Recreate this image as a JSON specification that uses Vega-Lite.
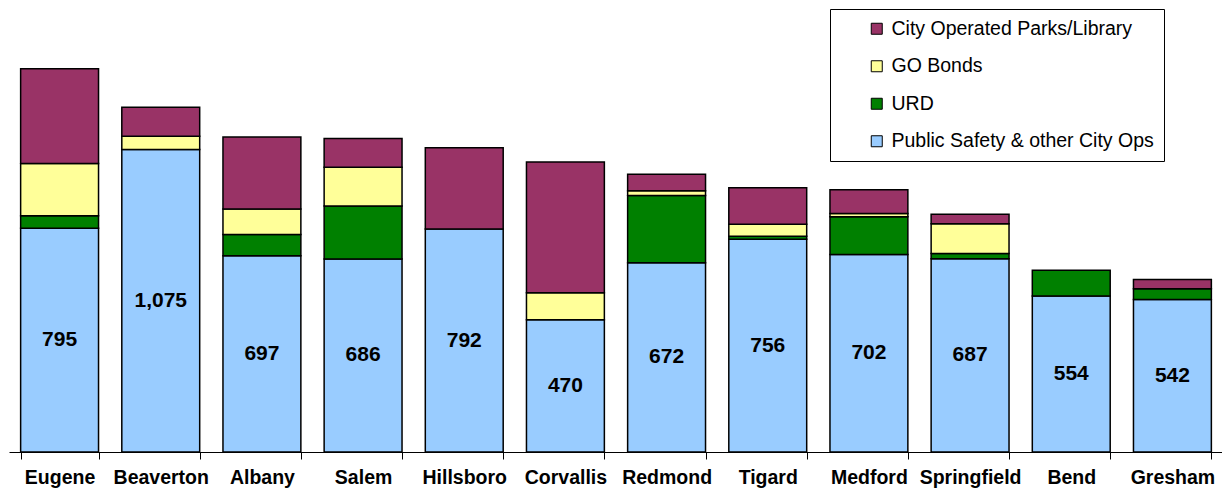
{
  "$schema": "https://vega.github.io/schema/vega-lite/v6.json",
  "width": 1214,
  "height": 452,
  "autosize": {"type": "none"},
  "padding": {"left": 9, "top": 0, "right": 0, "bottom": 36},
  "config": {"view": {"stroke": null}, "font": "Liberation Sans"},
  "data": {
    "values": [
      {"city": "Eugene", "cat": "Public Safety & other City Ops", "o": 1, "v": 795},
      {"city": "Eugene", "cat": "URD", "o": 2, "v": 44},
      {"city": "Eugene", "cat": "GO Bonds", "o": 3, "v": 186},
      {"city": "Eugene", "cat": "City Operated Parks/Library", "o": 4, "v": 337},
      {"city": "Beaverton", "cat": "Public Safety & other City Ops", "o": 1, "v": 1075},
      {"city": "Beaverton", "cat": "GO Bonds", "o": 3, "v": 47},
      {"city": "Beaverton", "cat": "City Operated Parks/Library", "o": 4, "v": 103},
      {"city": "Albany", "cat": "Public Safety & other City Ops", "o": 1, "v": 697},
      {"city": "Albany", "cat": "URD", "o": 2, "v": 76},
      {"city": "Albany", "cat": "GO Bonds", "o": 3, "v": 90},
      {"city": "Albany", "cat": "City Operated Parks/Library", "o": 4, "v": 256},
      {"city": "Salem", "cat": "Public Safety & other City Ops", "o": 1, "v": 686},
      {"city": "Salem", "cat": "URD", "o": 2, "v": 188},
      {"city": "Salem", "cat": "GO Bonds", "o": 3, "v": 138},
      {"city": "Salem", "cat": "City Operated Parks/Library", "o": 4, "v": 102},
      {"city": "Hillsboro", "cat": "Public Safety & other City Ops", "o": 1, "v": 792},
      {"city": "Hillsboro", "cat": "City Operated Parks/Library", "o": 4, "v": 289},
      {"city": "Corvallis", "cat": "Public Safety & other City Ops", "o": 1, "v": 470},
      {"city": "Corvallis", "cat": "GO Bonds", "o": 3, "v": 96},
      {"city": "Corvallis", "cat": "City Operated Parks/Library", "o": 4, "v": 464},
      {"city": "Redmond", "cat": "Public Safety & other City Ops", "o": 1, "v": 672},
      {"city": "Redmond", "cat": "URD", "o": 2, "v": 239},
      {"city": "Redmond", "cat": "GO Bonds", "o": 3, "v": 17},
      {"city": "Redmond", "cat": "City Operated Parks/Library", "o": 4, "v": 59},
      {"city": "Tigard", "cat": "Public Safety & other City Ops", "o": 1, "v": 756},
      {"city": "Tigard", "cat": "URD", "o": 2, "v": 11},
      {"city": "Tigard", "cat": "GO Bonds", "o": 3, "v": 42},
      {"city": "Tigard", "cat": "City Operated Parks/Library", "o": 4, "v": 130},
      {"city": "Medford", "cat": "Public Safety & other City Ops", "o": 1, "v": 702},
      {"city": "Medford", "cat": "URD", "o": 2, "v": 134},
      {"city": "Medford", "cat": "GO Bonds", "o": 3, "v": 11},
      {"city": "Medford", "cat": "City Operated Parks/Library", "o": 4, "v": 85},
      {"city": "Springfield", "cat": "Public Safety & other City Ops", "o": 1, "v": 687},
      {"city": "Springfield", "cat": "URD", "o": 2, "v": 18},
      {"city": "Springfield", "cat": "GO Bonds", "o": 3, "v": 106},
      {"city": "Springfield", "cat": "City Operated Parks/Library", "o": 4, "v": 34},
      {"city": "Bend", "cat": "Public Safety & other City Ops", "o": 1, "v": 554},
      {"city": "Bend", "cat": "URD", "o": 2, "v": 92},
      {"city": "Gresham", "cat": "Public Safety & other City Ops", "o": 1, "v": 542},
      {"city": "Gresham", "cat": "URD", "o": 2, "v": 38},
      {"city": "Gresham", "cat": "City Operated Parks/Library", "o": 4, "v": 33}
    ]
  },
  "encoding": {
    "x": {
      "field": "city",
      "type": "nominal",
      "sort": ["Eugene", "Beaverton", "Albany", "Salem", "Hillsboro", "Corvallis", "Redmond", "Tigard", "Medford", "Springfield", "Bend", "Gresham"],
      "scale": {"paddingInner": 0.23, "paddingOuter": 0.115},
      "axis": {
        "title": null,
        "domainColor": "black",
        "domainWidth": 1,
        "tickColor": "black",
        "tickSize": 7,
        "tickBand": "extent",
        "labelAngle": 0,
        "labelFont": "Liberation Sans",
        "labelFontSize": 19.5,
        "labelFontWeight": "bold",
        "labelColor": "black",
        "labelBaseline": "alphabetic",
        "labelPadding": 24,
        "grid": false
      }
    }
  },
  "layer": [
    {
      "mark": {"type": "bar", "stroke": "black", "strokeWidth": 1.5},
      "encoding": {
        "y": {
          "field": "v",
          "type": "quantitative",
          "stack": "zero",
          "scale": {"domain": [0, 1606], "nice": false, "zero": true},
          "axis": null
        },
        "color": {
          "field": "cat",
          "type": "nominal",
          "scale": {
            "domain": ["City Operated Parks/Library", "GO Bonds", "URD", "Public Safety & other City Ops"],
            "range": ["#993366", "#FFFF99", "#008000", "#99CCFF"]
          },
          "legend": {
            "orient": "none",
            "legendX": 821,
            "legendY": 9,
            "title": null,
            "fillColor": "white",
            "strokeColor": "black",
            "padding": 10,
            "symbolType": "square",
            "symbolSize": 121,
            "symbolStrokeColor": "black",
            "symbolStrokeWidth": 1,
            "symbolOffset": 27,
            "labelOffset": 5,
            "labelFont": "Liberation Sans",
            "labelFontSize": 19.5,
            "labelColor": "black",
            "labelLimit": 400,
            "rowPadding": 16.5
          }
        },
        "order": {"field": "o", "type": "quantitative", "sort": "ascending"}
      }
    },
    {
      "transform": [{"filter": "datum.o == 1"}],
      "mark": {"type": "text", "fontSize": 21, "fontWeight": "bold", "color": "black", "baseline": "middle"},
      "encoding": {
        "y": {"field": "v", "type": "quantitative", "stack": "zero", "bandPosition": 0.5},
        "text": {"field": "v", "type": "quantitative", "format": ",.0f"}
      }
    }
  ]
}
